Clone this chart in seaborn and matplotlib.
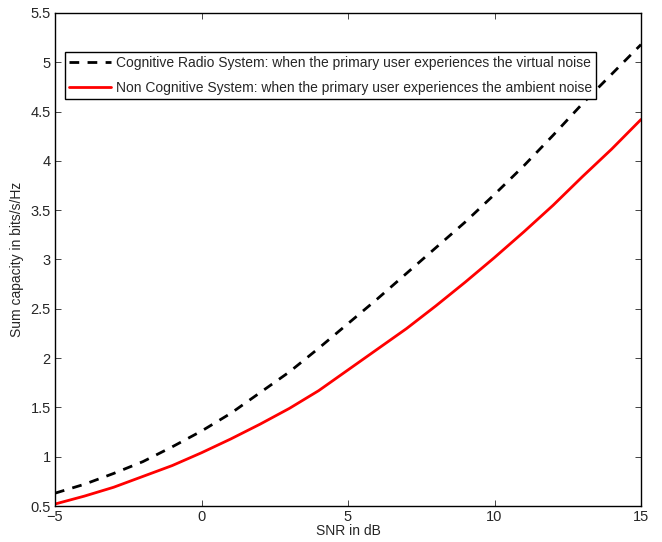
import matplotlib
matplotlib.use("Agg")
import matplotlib.pyplot as plt
import seaborn as sns
import pandas as pd

snr_db = [-5, -4, -3, -2, -1, 0, 1, 2, 3, 4, 5, 6, 7, 8, 9, 10, 11, 12, 13, 14, 15]
cognitive = [0.63, 0.72, 0.83, 0.95, 1.10, 1.26, 1.44, 1.65, 1.86, 2.10, 2.35, 2.60, 2.86,
             3.12, 3.38, 3.66, 3.95, 4.26, 4.58, 4.88, 5.18]
non_cognitive = [0.52, 0.60, 0.69, 0.80, 0.91, 1.04, 1.18, 1.33, 1.49, 1.67, 1.88, 2.09, 2.30,
                 2.53, 2.77, 3.02, 3.28, 3.55, 3.84, 4.12, 4.42]
labels = ["Cognitive Radio System: when the primary user experiences the virtual noise",
          "Non Cognitive System: when the primary user experiences the ambient noise"]
xticks = [-5, 0, 5, 10, 15]
yticks = [0.5, 1, 1.5, 2, 2.5, 3, 3.5, 4, 4.5, 5, 5.5]

sns.set_theme(style="ticks")
plt.rcParams['font.family'] = ['Liberation Sans', 'DejaVu Sans']

df = pd.DataFrame({
    "snr": snr_db * 2,
    "cap": cognitive + non_cognitive,
    "series": [labels[0]] * len(snr_db) + [labels[1]] * len(snr_db),
})

fig = plt.figure(figsize=(6.62, 5.42), dpi=100)
ax = fig.add_axes([55/662, 36/542, (641-55)/662, (506-13)/542])
sns.lineplot(data=df, x="snr", y="cap", hue="series", style="series",
             palette={labels[0]: "black", labels[1]: "#ff0000"},
             dashes={labels[0]: (3.5, 3), labels[1]: ""},
             linewidth=2, ax=ax, legend=True)

ax.set_xlim(-5, 15)
ax.set_ylim(0.5, 5.5)
ax.set_xticks(xticks)
ax.set_xticklabels(["\u22125", "0", "5", "10", "15"])
ax.set_yticks(yticks)
ax.set_yticklabels(["0.5", "1", "1.5", "2", "2.5", "3", "3.5", "4", "4.5", "5", "5.5"])
ax.tick_params(direction="in", top=True, right=True, labelsize=10.5, length=4, width=0.6, pad=3)
for s in ax.spines.values():
    s.set_linewidth(1.0)
    s.set_color("black")
ax.set_xlabel("SNR in dB", fontsize=10, labelpad=0)
ax.set_ylabel("Sum capacity in bits/s/Hz", fontsize=10, labelpad=5)

leg = ax.legend(loc="upper left", bbox_to_anchor=(10/586, 1 - 39/493), fontsize=10,
                frameon=True, fancybox=False, edgecolor="black", framealpha=1,
                handlelength=3.0, handletextpad=0.35, borderpad=0.3, labelspacing=0.75,
                borderaxespad=0)
leg.get_frame().set_linewidth(1.0)

fig.savefig("out.png", dpi=100)
